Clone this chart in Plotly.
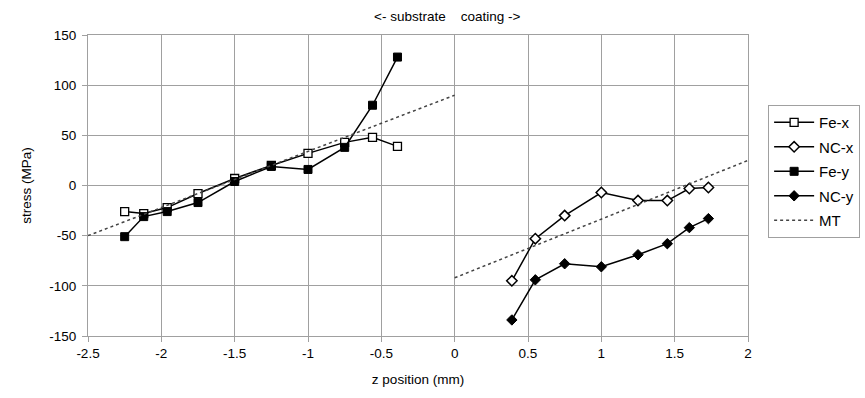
import plotly.graph_objects as go

# ---- data ----
z_fe = [-2.25, -2.12, -1.96, -1.75, -1.50, -1.25, -1.00, -0.75, -0.56, -0.39]
fe_x = [-26, -28, -22, -8, 7, 20, 32, 43, 48, 39]
fe_y = [-51, -31, -26, -17, 4, 19, 16, 38, 80, 128]

z_nc = [0.39, 0.55, 0.75, 1.00, 1.25, 1.45, 1.60, 1.73]
nc_x = [-95, -53, -30, -7, -15, -15, -3, -2]
nc_y = [-134, -94, -78, -81, -69, -58, -42, -33]

mt_z = [-2.5, 0.0, None, 0.0, 2.0]
mt_v = [-50, 90, None, -92, 25]

x_ticks = [-2.5, -2, -1.5, -1, -0.5, 0, 0.5, 1, 1.5, 2]
x_labels = ["-2.5", "-2", "-1.5", "-1", "-0.5", "0", "0.5", "1", "1.5", "2"]
y_ticks = [-150, -100, -50, 0, 50, 100, 150]
y_labels = ["-150", "-100", "-50", "0", "50", "100", "150"]

FONT = "Liberation Sans, Arial, sans-serif"

fig = go.Figure()
line = dict(color="black", width=1.5)
fig.add_trace(go.Scatter(x=z_fe, y=fe_x, mode="lines+markers", name="Fe-x", legendgroup="a",
                         line=line,
                         marker=dict(symbol="square", size=8, color="white",
                                     line=dict(color="black", width=1.3))))
fig.add_trace(go.Scatter(x=z_nc, y=nc_x, mode="lines+markers", name="NC-x", legendgroup="b",
                         line=line,
                         marker=dict(symbol="diamond", size=8, color="white",
                                     line=dict(color="black", width=1.5))))
fig.add_trace(go.Scatter(x=z_fe, y=fe_y, mode="lines+markers", name="Fe-y", legendgroup="c",
                         line=line,
                         marker=dict(symbol="square", size=8, color="black",
                                     line=dict(color="black", width=1))))
fig.add_trace(go.Scatter(x=z_nc, y=nc_y, mode="lines+markers", name="NC-y", legendgroup="d",
                         line=line,
                         marker=dict(symbol="diamond", size=8, color="black",
                                     line=dict(color="black", width=1))))
fig.add_trace(go.Scatter(x=mt_z, y=mt_v, mode="lines", name="MT", legendgroup="e",
                         line=dict(color="#444444", width=1.5, dash="3px,3px"),
                         connectgaps=False))

axis_common = dict(showgrid=True, gridcolor="#a0a0a0", gridwidth=1,
                   showline=True, linecolor="#a0a0a0", linewidth=1, mirror=True,
                   ticks="outside", ticklen=5, tickcolor="#a0a0a0",
                   zeroline=False, tickfont=dict(family=FONT, size=13.5, color="black"))

fig.update_xaxes(range=[-2.5, 2], tickvals=x_ticks, ticktext=x_labels,
                 title=dict(text="z position (mm)", font=dict(family=FONT, size=13.5, color="black"),
                            standoff=14),
                 **axis_common)
fig.update_yaxes(range=[-150, 150], tickvals=y_ticks, ticktext=y_labels,
                 title=dict(text="stress (MPa)", font=dict(family=FONT, size=13.5, color="black"),
                            standoff=14),
                 ticklabelstandoff=3,
                 **axis_common)

fig.add_annotation(text="<-\u00a0substrate\u00a0\u00a0\u00a0\u00a0coating\u00a0->",
                   x=-0.05, xref="x", y=1.06, yref="paper", yanchor="middle",
                   showarrow=False, font=dict(family=FONT, size=13.5, color="black"))

fig.update_layout(
    width=865, height=398,
    margin=dict(l=88, r=117, t=35, b=62, autoexpand=False),
    plot_bgcolor="white", paper_bgcolor="white",
    font=dict(family=FONT, size=13.5, color="black"),
    legend=dict(xref="container", yref="container", x=0.888, y=0.736,
                xanchor="left", yanchor="top",
                bordercolor="#a0a0a0", borderwidth=1, bgcolor="white",
                font=dict(family=FONT, size=15, color="black"),
                tracegroupgap=2, itemwidth=40),
    showlegend=True,
)

fig.write_html("out.html")
